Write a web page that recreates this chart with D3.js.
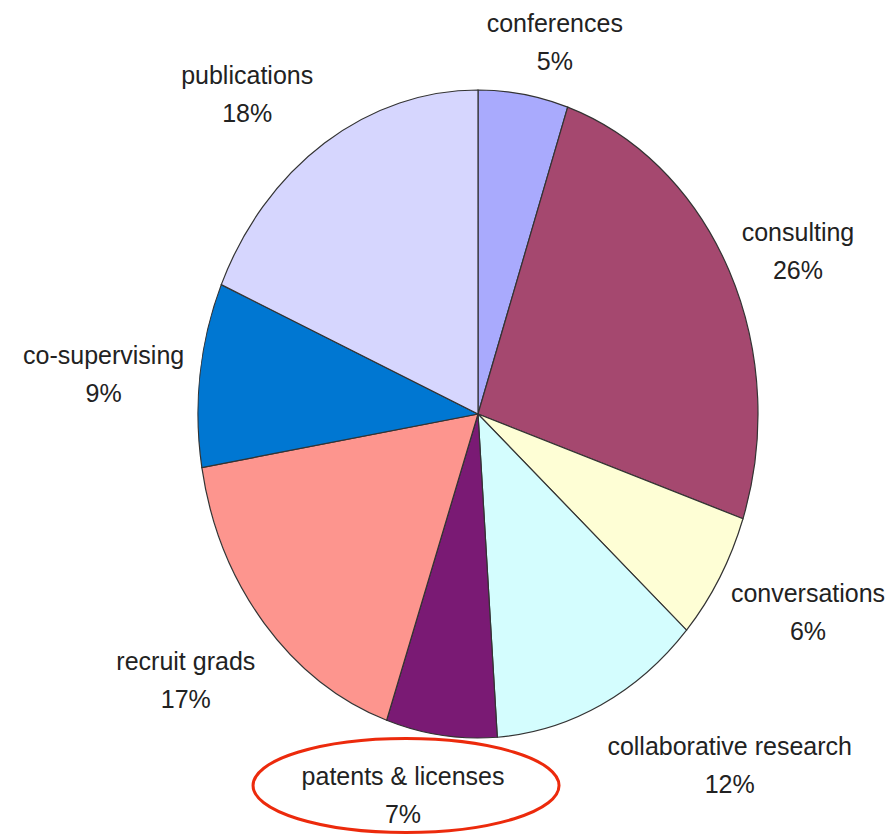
<!DOCTYPE html>
<html>
<head>
<meta charset="utf-8">
<script src="https://cdn.jsdelivr.net/npm/d3@7"></script>
<style>
  body { margin: 0; background: #fff; }
  text { font-family: "Liberation Sans", Arial, sans-serif; font-size: 25px; fill: #222; }
</style>
</head>
<body>
<script>
// categories clockwise from 12 o'clock
var categories = ["conferences", "consulting", "conversations", "collaborative research",
                  "patents & licenses", "recruit grads", "co-supervising", "publications"];
var values = [5.2, 25.1, 6.4, 12.3, 6.4, 17.1, 9.2, 18.5];
// percent text as printed on the chart
var pctLabels = ["5%", "26%", "6%", "12%", "7%", "17%", "9%", "18%"];
var colors = ["#a9aafd", "#a5486f", "#fefed5", "#d4fdfe", "#7a1a74", "#fd958e", "#0077d2", "#d6d6fe"];

// label nudges (px) from the default spot outside each slice
var labelNudge = [[20, 25], [6, 13], [28, -10], [98, -16], [-29, -23], [-25, 1], [-27, 6], [-39, 16]];

var width = 895, height = 835;
var cx = 478, cy = 414, rx = 280, ry = 324;

var svg = d3.select("body").append("svg")
    .attr("width", width)
    .attr("height", height);

var pie = d3.pie().sort(null).value(function(d) { return d; });
var arcs = pie(values);

var arc = d3.arc().innerRadius(0).outerRadius(rx);

var g = svg.append("g")
    .attr("transform", "translate(" + cx + "," + cy + ") scale(1," + (ry / rx) + ")");

g.selectAll("path")
    .data(arcs)
    .enter().append("path")
    .attr("d", arc)
    .attr("fill", function(d, i) { return colors[i]; })
    .attr("stroke", "#333")
    .attr("stroke-width", 1.2)
    .attr("vector-effect", "non-scaling-stroke");

// labels
var lbl = svg.append("g");
arcs.forEach(function(d, i) {
    var a = (d.startAngle + d.endAngle) / 2;
    var x = cx + rx * 1.25 * Math.sin(a) + labelNudge[i][0];
    var y = cy - ry * 1.25 * Math.cos(a) + labelNudge[i][1];
    var t = lbl.append("text")
        .attr("text-anchor", "middle")
        .attr("x", x)
        .attr("y", y - 7);
    t.append("tspan").attr("x", x).text(categories[i]);
    t.append("tspan").attr("x", x).attr("dy", 38).text(pctLabels[i]);

    if (categories[i] == "patents & licenses") {
        svg.append("ellipse")
            .attr("cx", x + 3)
            .attr("cy", y - 7)
            .attr("rx", 153)
            .attr("ry", 47)
            .attr("fill", "none")
            .attr("stroke", "#ec2a0c")
            .attr("stroke-width", 3);
    }
});
</script>
</body>
</html>
